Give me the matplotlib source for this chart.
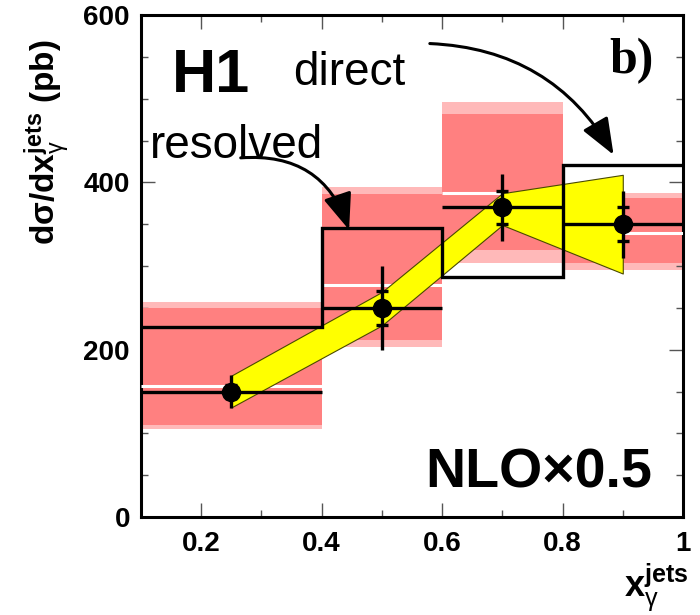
import numpy as np
import matplotlib
matplotlib.use("Agg")
import matplotlib.pyplot as plt
from matplotlib.patches import FancyArrowPatch

# bins in x_gamma
edges = [0.1, 0.4, 0.6, 0.8, 1.0]
centers = [0.25, 0.5, 0.7, 0.9]

# H1 data
data = [150, 250, 370, 350]
err_tot = [20, 50, 40, 40]
err_stat = [8, 20, 20, 20]

# NLO x 0.5, direct part (step histogram)
direct = [227, 345, 287, 421]

# NLO x 0.5, resolved + direct band (centre, inner and outer uncertainty)
res_center = [157, 277, 387, 340]
res_inner_lo = [110, 211, 319, 303]
res_inner_hi = [250, 386, 482, 381]
res_outer_lo = [105, 203, 303, 295]
res_outer_hi = [257, 394, 496, 387]

# yellow band
band_x = [0.25, 0.5, 0.7, 0.9]
band_lo = [131, 229, 349, 291]
band_hi = [169, 269, 387, 409]

plt.rcParams['font.family'] = ['Liberation Sans', 'DejaVu Sans']
plt.rcParams['mathtext.fontset'] = 'custom'
plt.rcParams['mathtext.rm'] = 'Liberation Sans'
plt.rcParams['mathtext.it'] = 'Liberation Sans:italic'
plt.rcParams['mathtext.bf'] = 'Liberation Sans:bold'

fig = plt.figure(figsize=(7, 6.15), dpi=100)
ax = fig.add_axes([141 / 700, 1 - 517 / 615, 542 / 700, 502 / 615])

lefts = np.array(edges[:-1])
widths = np.diff(edges)

# resolved bands
ax.bar(lefts, np.array(res_outer_hi) - np.array(res_outer_lo), widths,
       bottom=res_outer_lo, align='edge', color='#ffb9b9', lw=0, zorder=1)
ax.bar(lefts, np.array(res_inner_hi) - np.array(res_inner_lo), widths,
       bottom=res_inner_lo, align='edge', color='#ff8080', lw=0, zorder=2)
ax.hlines(res_center, lefts, edges[1:], color='white', lw=2.2, zorder=3)

# yellow band
ax.fill_between(band_x, band_lo, band_hi, facecolor='#ffff00',
                edgecolor='#4a4a00', lw=0.8, zorder=4)

# direct histogram
ax.stairs(direct, edges, baseline=None, color='black', lw=2.4, zorder=5)

# data
ax.hlines(data, lefts, edges[1:], color='black', lw=2.4, zorder=6)
ax.errorbar(centers, data, yerr=err_tot, fmt='o', color='black', ms=13,
            elinewidth=2.4, capsize=0, zorder=7)
ax.errorbar(centers, data, yerr=err_stat, fmt='none', ecolor='black',
            elinewidth=0, capsize=4.5, capthick=2.4, zorder=7)

ax.set_xlim(0.1, 1.0)
ax.set_ylim(0, 600)
ax.set_xticks([0.2, 0.4, 0.6, 0.8, 1.0])
ax.set_xticklabels(['0.2', '0.4', '0.6', '0.8', '1'])
ax.set_xticks(np.arange(0.1, 1.0, 0.1), minor=True)
ax.set_yticks([0, 200, 400, 600])
ax.set_yticks(np.arange(0, 600, 50), minor=True)
ax.tick_params(which='both', direction='in', top=True, right=True,
               color='#555555', width=1)
ax.tick_params(which='major', length=10)
ax.tick_params(which='minor', length=5)
ax.tick_params(axis='x', which='major', pad=10)
ax.tick_params(axis='y', which='major', pad=8)
for lab in ax.get_xticklabels() + ax.get_yticklabels():
    lab.set_fontsize(20)
    lab.set_fontweight('bold')
for sp in ax.spines.values():
    sp.set_linewidth(2.2)

# texts
ax.text(0.151, 508, 'H1', fontsize=44, fontweight='bold', va='baseline')
ax.text(0.352, 516, 'direct', fontsize=33, va='baseline')
ax.text(0.115, 429, 'resolved', fontsize=33, va='baseline')
ax.text(0.878, 530, 'b)', fontsize=36, fontweight='bold',
        family='Liberation Serif', va='baseline')
ax.text(0.572, 35, 'NLO\u00d70.5', fontsize=40, fontweight='bold', va='baseline')

# arrows
for (x0, y0), (x1, y1), rad in [((0.575, 566), (0.887, 430), -0.28),
                                ((0.261, 429), (0.447, 340), -0.4)]:
    ax.add_patch(FancyArrowPatch((x0, y0), (x1, y1),
                                 connectionstyle=f'arc3,rad={rad}',
                                 arrowstyle='-|>,head_length=1.4,head_width=0.55',
                                 mutation_scale=16, color='black', lw=2.2,
                                 zorder=8))

# axis labels
fig.text(47 / 700, 1 - 142 / 615,
         r'd$\mathbf{\sigma}$/dx$_{\mathrm{\gamma}}^{\mathbf{jets}}$ (pb)',
         rotation=90, fontsize=24, fontweight='bold', ha='center', va='center')
fig.text(624 / 700, 1 - 596 / 615,
         r'$\mathbf{x}_{\mathrm{\gamma}}^{\mathbf{jets}}$',
         fontsize=26, va='baseline')

fig.savefig('out.png', dpi=100)
